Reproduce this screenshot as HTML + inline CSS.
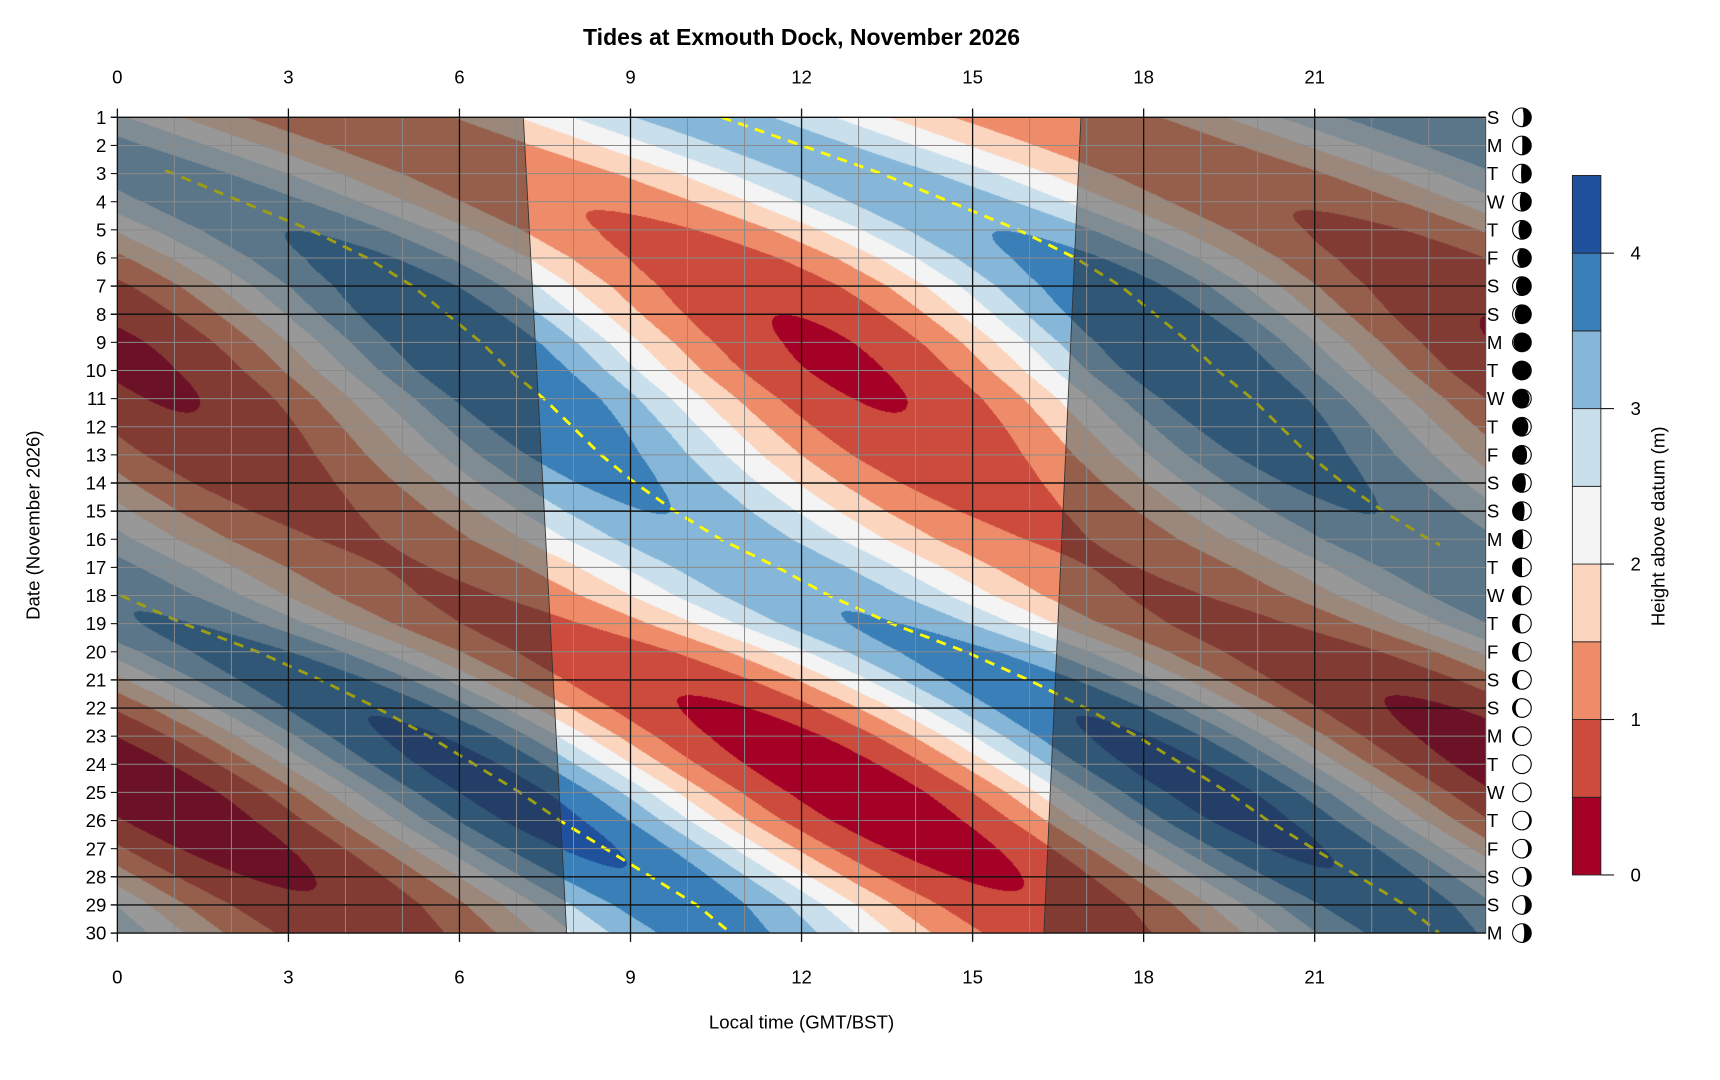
<!DOCTYPE html>
<html><head><meta charset="utf-8">
<style>
html,body{margin:0;padding:0;background:#fff;}
#wrap{position:relative;width:1720px;height:1080px;overflow:hidden;}
#cv{position:absolute;}
svg{position:absolute;left:0;top:0;}
text{font-family:"Liberation Sans",Arial,sans-serif;}
</style></head><body>
<div id="wrap">
<canvas id="cv"></canvas>
<svg id="sv" width="1720" height="1080" viewBox="0 0 1568.6 985"></svg>
</div>
<script>
var s=1720/1568.6;
var X0=107,X1=1355,Y0=107,Y1=851;
var PW=X1-X0,PH=Y1-Y0;
function xh(t){return X0+t/24*PW;}
function yd(d){return Y0+(d-1)/29*PH;}
var T=[10.6,12.0,13.4,14.6,15.8,16.8,17.6,18.2,18.8,19.3,19.9,20.4,20.9,21.5,22.2,23.0,24.0,24.9,26.0,27.3,28.4,29.4,30.3,31.1,31.9,32.6,33.4,34.2,35.0,35.6];
function Tf(d){var i=Math.floor(d-1);if(i<0)i=0;if(i>28)i=28;var f=d-1-i;return T[i]+(T[i+1]-T[i])*f;}
function Af(d){return 1.45+0.33*Math.cos(2*Math.PI*(d-9.5)/15.2)+0.2*(d-9.5)/15;}
var cols=['#a50026','#cc4b3d','#ee8c6a','#fcd5bf','#f4f4f4','#c9dfec','#86b7d8','#3a7fb8','#1f519c'];
function hex(c){return [parseInt(c.substr(1,2),16),parseInt(c.substr(3,2),16),parseInt(c.substr(5,2),16)];}
var rgb=cols.map(hex);
var cv=document.getElementById('cv');
var W=Math.round(PW*s),H=Math.round(PH*s);
cv.width=W;cv.height=H;cv.style.left=(X0*s)+'px';cv.style.top=(Y0*s)+'px';cv.style.width=W+'px';cv.style.height=H+'px';
var ctx=cv.getContext('2d');var img=ctx.createImageData(W,H);var D=img.data;
var M=2.2,P=12.42;
for(var y=0;y<H;y++){var d=1+y/(H-1)*29;var tt=Tf(d)-0.3,A=Af(d);
 for(var x=0;x<W;x++){var t=x/(W-1)*24;var th=2*Math.PI*(t-tt)/P;
  var h=M+A*Math.cos(th+0.12*Math.sin(th));
  var k=Math.floor(h/0.5);if(k<0)k=0;if(k>8)k=8;var c=rgb[k];var o=(y*W+x)*4;
  D[o]=c[0];D[o+1]=c[1];D[o+2]=c[2];D[o+3]=255;}}
ctx.putImageData(img,0,0);
var sv=document.getElementById('sv');var h='';
function branch(off,d0,d1){var p='';for(var d=d0;d<=d1+1e-9;d+=0.1){var t=Tf(d)-off;if(t<0||t>24)continue;p+=(p?'L':'M')+xh(t).toFixed(1)+','+yd(d).toFixed(1);}return p;}
h+='<path d="'+branch(0,1,16.2)+' '+branch(12.42,2.9,30)+' '+branch(24.84,17.9,30)+'" fill="none" stroke="#ffff00" stroke-width="2.6" stroke-dasharray="9,7"/>';
function sr(d){return 7.12+0.76*(d-1)/29;}function ss(d){return 16.9-0.65*(d-1)/29;}
h+='<polygon points="'+X0+','+Y0+' '+xh(sr(1))+','+Y0+' '+xh(sr(30))+','+Y1+' '+X0+','+Y1+'" fill="rgba(40,40,40,0.45)" stroke="#333" stroke-width="0.8"/>';
h+='<polygon points="'+xh(ss(1))+','+Y0+' '+X1+','+Y0+' '+X1+','+Y1+' '+xh(ss(30))+','+Y1+'" fill="rgba(40,40,40,0.45)" stroke="#333" stroke-width="0.8"/>';
for(var i=1;i<24;i++){if(i%3)h+='<line x1="'+xh(i)+'" y1="'+Y0+'" x2="'+xh(i)+'" y2="'+Y1+'" stroke="#8a8a8a" stroke-width="0.9"/>';}
var blk=[1,7,8,14,15,21,22,28,29,30];
for(var d=2;d<30;d++){if(blk.indexOf(d)<0)h+='<line x1="'+X0+'" y1="'+yd(d)+'" x2="'+X1+'" y2="'+yd(d)+'" stroke="#8a8a8a" stroke-width="0.9"/>';}
for(var i=0;i<24;i+=3){h+='<line x1="'+xh(i)+'" y1="'+(Y0-8)+'" x2="'+xh(i)+'" y2="'+(Y1+8)+'" stroke="#111" stroke-width="1.2"/>';}
blk.forEach(function(d){h+='<line x1="'+(X0-6)+'" y1="'+yd(d)+'" x2="'+X1+'" y2="'+yd(d)+'" stroke="#111" stroke-width="1.3"/>';});
var days='SMTWTFS';
for(var d=1;d<=30;d++){var y=yd(d);
 h+='<line x1="'+(X0-6)+'" y1="'+y+'" x2="'+X0+'" y2="'+y+'" stroke="#111" stroke-width="1"/>';
 h+='<text x="97" y="'+(y+6)+'" font-size="17" text-anchor="end">'+d+'</text>';
 h+='<text x="1356" y="'+(y+6)+'" font-size="17">'+days[(d-1)%7]+'</text>';
 var cx=1388,cy=y,r=8.5;var ph=((d-9.7)/29.53)%1;if(ph<0)ph+=1;
 var w=Math.abs(ph-0.5)*2; // dark fraction
 var c=2*w-1;var rx=Math.abs(c)*r;
 var path;
 if(ph<0.5){path='M'+cx+','+(cy-r)+' A'+r+','+r+' 0 0 0 '+cx+','+(cy+r)+' A'+rx+','+r+' 0 0 '+(c>0?0:1)+' '+cx+','+(cy-r)+'Z';}
 else{path='M'+cx+','+(cy-r)+' A'+r+','+r+' 0 0 1 '+cx+','+(cy+r)+' A'+rx+','+r+' 0 0 '+(c>0?1:0)+' '+cx+','+(cy-r)+'Z';}
 h+='<circle cx="'+cx+'" cy="'+cy+'" r="'+r+'" fill="#fff" stroke="#000" stroke-width="1"/><path d="'+path+'" fill="#000"/>';
}
for(var i=0;i<24;i+=3){h+='<text x="'+xh(i)+'" y="76" font-size="17" text-anchor="middle">'+i+'</text><text x="'+xh(i)+'" y="897" font-size="17" text-anchor="middle">'+i+'</text>';}
h+='<text x="731" y="41" font-size="21" font-weight="bold" text-anchor="middle">Tides at Exmouth Dock, November 2026</text>';
h+='<text x="731" y="938" font-size="17" text-anchor="middle">Local time (GMT/BST)</text>';
h+='<text transform="translate(36,479) rotate(-90)" font-size="17" text-anchor="middle">Date (November 2026)</text>';
var cb0=798,step=(798-160)/9;
for(var k=0;k<9;k++){h+='<rect x="1434" y="'+(cb0-(k+1)*step)+'" width="26" height="'+step+'" fill="'+cols[k]+'" stroke="#222" stroke-width="0.8"/>';}
for(var v=0;v<=4;v++){var y=cb0-v*2*step;h+='<line x1="1460" y1="'+y+'" x2="1472" y2="'+y+'" stroke="#111" stroke-width="1"/><text x="1487" y="'+(y+6)+'" font-size="17">'+v+'</text>';}
h+='<text transform="translate(1518,480) rotate(-90)" font-size="17" text-anchor="middle">Height above datum (m)</text>';
sv.innerHTML=h;
</script>
</body></html>
